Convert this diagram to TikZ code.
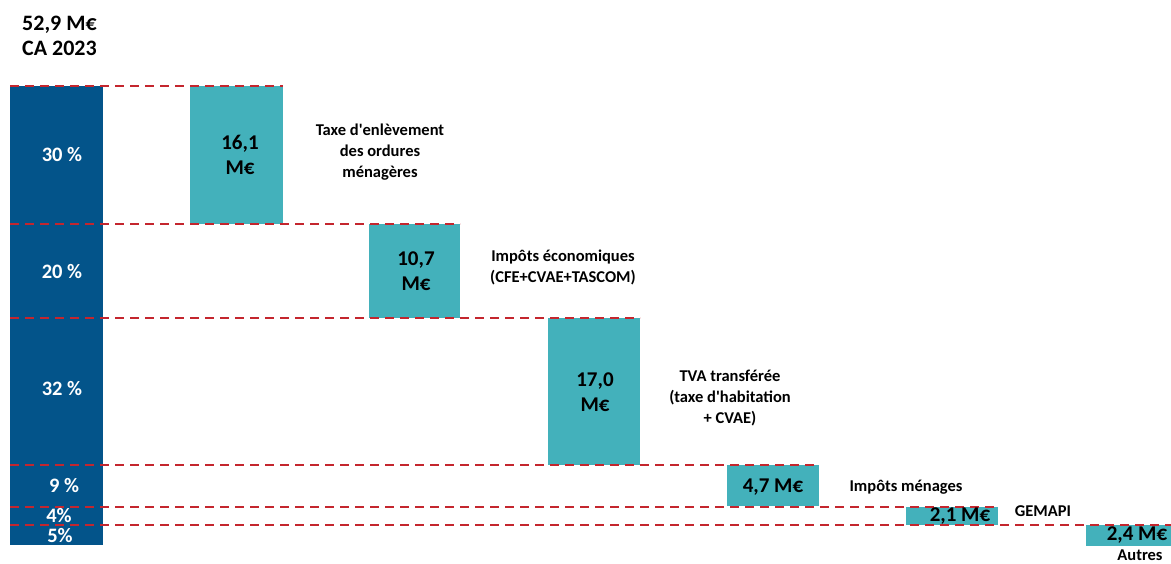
\documentclass[tikz,border=0pt]{standalone}
\usepackage{fontspec}
\setmainfont{Carlito}
\definecolor{darkbar}{HTML}{03548A}
\definecolor{teal}{HTML}{43B1BB}
\definecolor{dashred}{HTML}{C4262E}
\begin{document}
\begin{tikzpicture}[x=1pt,y=-1pt,
  bar/.style={fill=darkbar,draw=none,inner sep=0pt,anchor=north west},
  tbox/.style={fill=teal,draw=none,inner sep=0pt,anchor=north west},
  pct/.style={text=white,font=\bfseries\fontsize{20.5}{22}\selectfont,inner sep=0pt},
  val/.style={text=black,font=\bfseries\fontsize{21}{25}\selectfont,align=center,inner sep=0pt},
  lab/.style={text=black,font=\bfseries\fontsize{16.5}{21}\selectfont,align=center,inner sep=0pt},
  ttl/.style={text=black,font=\bfseries\fontsize{22}{24}\selectfont,inner sep=0pt,anchor=west},
  dl/.style={draw=dashred,line width=1.6pt,dash pattern=on 9pt off 6pt}]
\useasboundingbox (0,0) rectangle (1171,563);
% title
\node[ttl] (t1) at (22,25) {52,9 M€};
\node[ttl] (t2) at (22,48) {CA 2023};
% main bar
\node[bar,minimum width=93pt,minimum height=459pt] (main) at (10,86) {};
% teal boxes
\node[tbox,minimum width=93pt,minimum height=138pt] (b1) at (190,86) {};
\node[tbox,minimum width=91pt,minimum height=94pt] (b2) at (369,224) {};
\node[tbox,minimum width=92pt,minimum height=147pt] (b3) at (548,318) {};
\node[tbox,minimum width=92pt,minimum height=41pt] (b4) at (727,465) {};
\node[tbox,minimum width=92pt,minimum height=18pt] (b5) at (906,507) {};
\node[tbox,minimum width=85pt,minimum height=21pt] (b6) at (1086,525) {};
% dashed lines
\coordinate (e1) at (283,86);
\coordinate (e2) at (460,224);
\coordinate (e3) at (640,318);
\coordinate (e4) at (817,465);
\coordinate (e5) at (998,507);
\coordinate (e6) at (1171,525);
\draw[dl] (main.north west) -- (e1);
\draw[dl] (main.west |- e2) -- (e2);
\draw[dl] (main.west |- e3) -- (e3);
\draw[dl] (main.west |- e4) -- (e4);
\draw[dl] (main.west |- e5) -- (e5);
\draw[dl] (main.west |- e6) -- (e6);
% percentages
\node[pct] (p1) at (62,155) {30 \%};
\node[pct] (p2) at (62,272) {20 \%};
\node[pct] (p3) at (62,389) {32 \%};
\node[pct] (p4) at (64,486) {9 \%};
\node[pct] (p5) at (59,516) {4\%};
\node[pct] (p6) at (60,536) {5\%};
% values
\node[val] (v1) at (240,155) {16,1\\M€};
\node[val] (v2) at (416,271) {10,7\\M€};
\node[val] (v3) at (595,392) {17,0\\M€};
\node[val] (v4) at (773,487) {4,7 M€};
\node[val] (v5) at (960,516) {2,1 M€};
\node[val] (v6) at (1137,535) {2,4 M€};
% labels
\node[lab] (l1) at (380,152) {Taxe d\textquotesingle enlèvement\\des ordures\\ménagères};
\node[lab] (l2) at (563,267) {Impôts économiques\\(CFE+CVAE+TASCOM)};
\node[lab] (l3) at (730,398) {TVA transférée\\(taxe d\textquotesingle habitation\\+ CVAE)};
\node[lab] (l4) at (906,487) {Impôts ménages};
\node[lab] (l5) at (1043,511) {GEMAPI};
\node[lab] (l6) at (1140,555.5) {Autres};
\end{tikzpicture}
\end{document}
